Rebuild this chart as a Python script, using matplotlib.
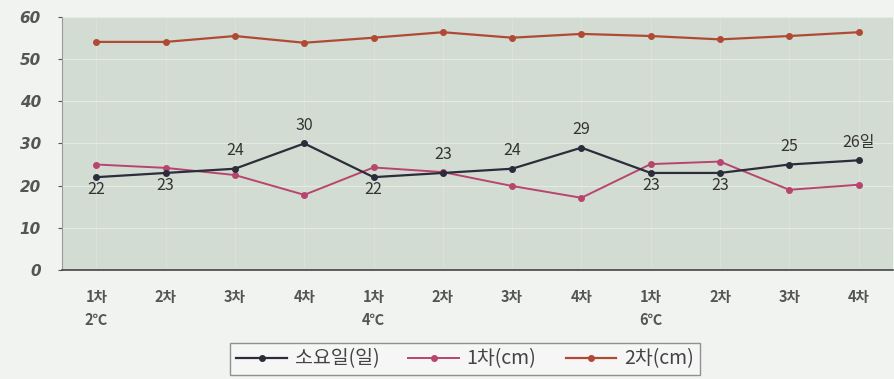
import numpy as np
import matplotlib.pyplot as plt

plt.rcParams['font.family'] = ['Noto Sans CJK KR', 'DejaVu Sans']

categories = ['1차\n2℃', '2차', '3차', '4차',
              '1차\n4℃', '2차', '3차', '4차',
              '1차\n6℃', '2차', '3차', '4차']
days = [22, 23, 24, 30, 22, 23, 24, 29, 23, 23, 25, 26]
first_cm = [25, 24.2, 22.5, 17.8, 24.3, 23.2, 19.9, 17.1, 25.1, 25.7, 19, 20.2]
second_cm = [54.1, 54.1, 55.5, 53.9, 55.1, 56.4, 55.1, 56.0, 55.5, 54.7, 55.5, 56.4]
label_pos = ['b', 'b', 't', 't', 'b', 't', 't', 't', 'b', 'b', 't', 't']

fig = plt.figure(figsize=(8.95, 3.79), dpi=100)
fig.patch.set_facecolor('#f1f3f1')
ax = fig.add_axes([0.069, 0.288, 0.929, 0.667])
ax.set_facecolor('#d3dcd3')

x = np.arange(len(categories))
ax.plot(x, days, color='#2b2d3a', lw=1.6, marker='o', ms=4, label='소요일(일)', zorder=4)
ax.plot(x, first_cm, color='#b8456e', lw=1.4, marker='o', ms=4, label='1차(cm)', zorder=3)
ax.plot(x, second_cm, color='#b04a35', lw=1.6, marker='o', ms=4, label='2차(cm)', zorder=3)

for i, v in enumerate(days):
    txt = str(v) + ('일' if i == len(days) - 1 else '')
    if label_pos[i] == 't':
        ax.annotate(txt, (i, v), xytext=(0, 7), textcoords='offset points',
                    ha='center', va='bottom', fontsize=11.5, color='#333333')
    else:
        ax.annotate(txt, (i, v), xytext=(0, -3), textcoords='offset points',
                    ha='center', va='top', fontsize=11.5, color='#333333')

ax.set_xlim(-0.5, len(categories) - 0.5)
ax.set_ylim(0, 60)
ax.set_yticks(range(0, 61, 10))
ax.set_xticks(x)
ax.set_xticklabels(categories, fontsize=10.5, style='italic', fontweight='bold',
                   color='#555555', ha='center', va='top', linespacing=1.5)
ax.tick_params(axis='y', labelsize=11, colors='#555555', length=3, pad=12)
ax.tick_params(axis='x', length=0, pad=14)
for lab in ax.get_yticklabels():
    lab.set_family(['DejaVu Sans'])
    lab.set_fontstyle('italic')
    lab.set_fontweight('bold')
ax.yaxis.grid(True, color='#e4eae4', lw=0.8)
ax.xaxis.grid(True, color='#dde4dd', lw=0.5)
ax.set_axisbelow(True)
for s in ['top', 'right']:
    ax.spines[s].set_visible(False)
ax.spines['left'].set_color('#999999')
ax.spines['bottom'].set_color('#444444')
ax.spines['bottom'].set_linewidth(1.2)

leg = ax.legend(loc='upper center', bbox_to_anchor=(0.485, -0.25), ncol=3,
                frameon=True, fancybox=False, handlelength=2.6,
                columnspacing=1.5, handletextpad=0.4, borderpad=0.3,
                prop={'style': 'italic', 'size': 14})
leg.get_frame().set_edgecolor('#777777')
leg.get_frame().set_facecolor('#f7f7f7')
for t in leg.get_texts():
    t.set_color('#444444')

fig.savefig('out.png', dpi=100, facecolor=fig.get_facecolor())
